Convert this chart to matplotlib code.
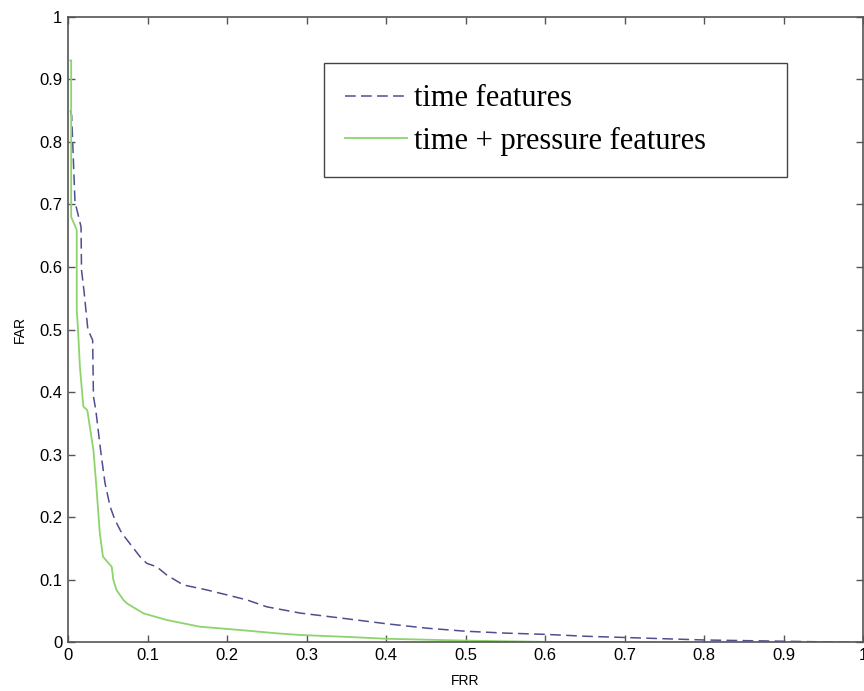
import matplotlib.pyplot as plt

# FRR / FAR points
frr_time = [0.003, 0.0046, 0.0088, 0.0164, 0.017, 0.020, 0.025, 0.031, 0.032, 0.035, 0.041,
            0.0465, 0.053, 0.059, 0.0675, 0.0906, 0.099, 0.1115, 0.124, 0.141, 0.145, 0.1745,
            0.2, 0.225, 0.25, 0.292, 0.35, 0.4, 0.45, 0.5, 0.55, 0.6, 0.65, 0.7, 0.75, 0.8,
            0.85, 0.9, 0.95, 1.0]
far_time = [0.85, 0.842, 0.704, 0.664, 0.595, 0.563, 0.50, 0.483, 0.393, 0.371, 0.307,
            0.255, 0.217, 0.196, 0.175, 0.137, 0.1265, 0.121, 0.108, 0.095, 0.092, 0.084,
            0.076, 0.068, 0.057, 0.047, 0.038, 0.030, 0.023, 0.018, 0.015, 0.013, 0.010, 0.008, 0.006, 0.004,
            0.003, 0.002, 0.001, 0.0]

frr_press = [0.003, 0.004, 0.004, 0.011, 0.011, 0.0126, 0.015, 0.0193, 0.0243, 0.032, 0.036,
             0.040, 0.044, 0.055, 0.057, 0.061, 0.0696, 0.074, 0.0947, 0.124, 0.166, 0.216,
             0.262, 0.292, 0.35, 0.4, 0.5, 0.6, 0.7, 0.8, 0.9, 1.0]
far_press = [0.93, 0.93, 0.680, 0.659, 0.531, 0.50, 0.44, 0.377, 0.371, 0.307, 0.244,
             0.175, 0.137, 0.121, 0.10, 0.084, 0.068, 0.0626, 0.0466, 0.036, 0.0252, 0.020,
             0.0147, 0.012, 0.009, 0.006, 0.003, 0.001, 0.0005, 0.0, 0.0, 0.0]

ticks = [0, 0.1, 0.2, 0.3, 0.4, 0.5, 0.6, 0.7, 0.8, 0.9, 1]
tick_labels = ["0", "0.1", "0.2", "0.3", "0.4", "0.5", "0.6", "0.7", "0.8", "0.9", "1"]

fig = plt.figure(figsize=(8.64, 6.91), dpi=100)
ax = fig.add_axes([0.0787, 0.0702, 0.9203, 0.9058])

ax.plot(frr_time, far_time, color="#4e4e90", lw=1.1, dashes=(7, 3.5), label="time features")
ax.plot(frr_press, far_press, color="#8ed46c", lw=1.3, label="time + pressure features")

ax.set_xlim(0, 1)
ax.set_ylim(0, 1)
ax.set_xticks(ticks)
ax.set_xticklabels(tick_labels)
ax.set_yticks(ticks)
ax.set_yticklabels(tick_labels)
ax.tick_params(direction="in", length=5, width=1, color="#555555", top=True, right=True,
               labelsize=12, pad=4)
for lab in ax.get_xticklabels() + ax.get_yticklabels():
    lab.set_family("Liberation Sans")
for sp in ax.spines.values():
    sp.set_color("#555555")
    sp.set_linewidth(1.2)

ax.set_xlabel("FRR", fontsize=10, family="Liberation Sans", labelpad=8)
ax.set_ylabel("FAR", fontsize=10, family="Liberation Sans", labelpad=9)

# legend box spans a fixed region like the MATLAB one
leg = ax.legend(loc="upper left", bbox_to_anchor=(0.322, 0.744, 0.582, 0.182), mode="expand",
                borderaxespad=0, fancybox=False, edgecolor="#444444", framealpha=1,
                prop={"family": "Liberation Serif", "size": 22},
                handlelength=2.0, handletextpad=0.23, labelspacing=0.45,
                borderpad=0.7)
leg.get_frame().set_linewidth(1.0)

fig.savefig("out.png", dpi=100)
